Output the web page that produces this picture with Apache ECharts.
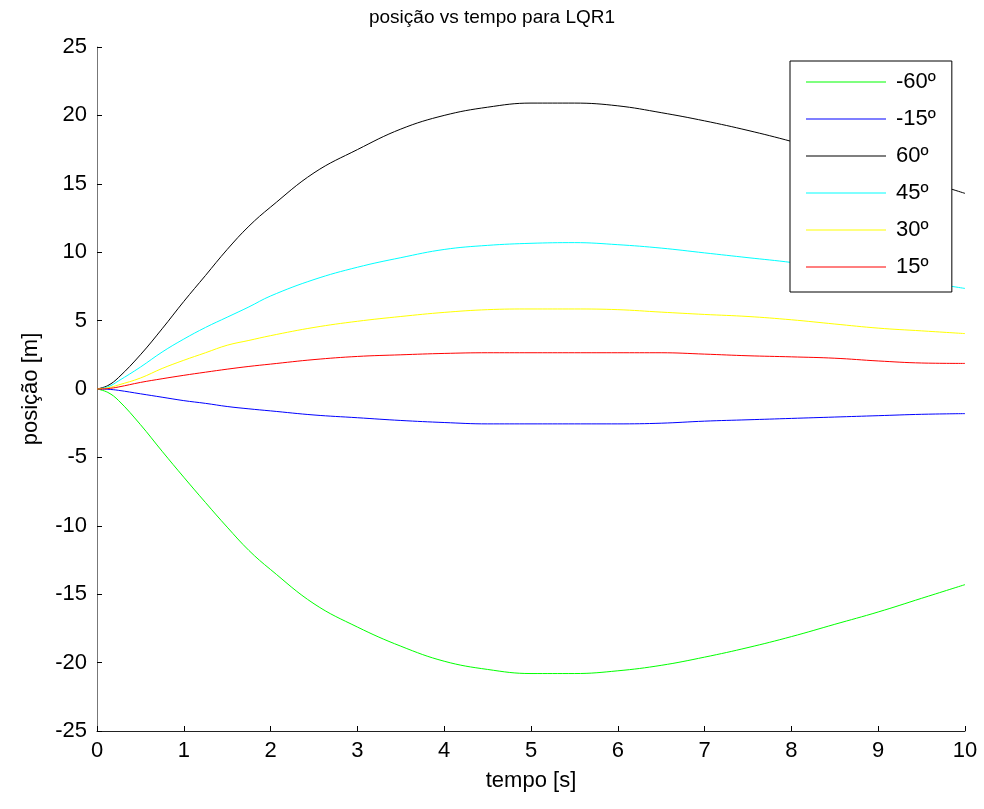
<!DOCTYPE html>
<html>
<head>
<meta charset="utf-8">
<script src="https://cdn.jsdelivr.net/npm/echarts@6/dist/echarts.min.js"></script>
<style>html,body{margin:0;padding:0;background:#fff}#c{width:984px;height:809px}</style>
</head>
<body>
<div id="c"></div>
<script>
var titleText = 'posição vs tempo para LQR1';
var xName = 'tempo [s]';
var yName = 'posição [m]';
var seriesNames = ['-60º', '-15º', '60º', '45º', '30º', '15º'];
var seriesColors = ['#00ff00', '#0000ff', '#000000', '#00ffff', '#ffff00', '#ff0000'];

var t = [0, 0.125, 0.25, 0.5, 0.75, 1, 1.25, 1.5, 1.75, 2, 2.5, 3, 3.5, 4, 4.5, 5, 5.5, 6, 6.5, 7, 7.5, 8, 8.5, 9, 9.5, 10];
var pos_m60 = [0, -0.25, -0.85, -2.6, -4.55, -6.45, -8.3, -10.1, -11.8, -13.2, -15.7, -17.4, -18.8, -19.9, -20.5, -20.8, -20.8, -20.6, -20.2, -19.6, -18.9, -18.1, -17.2, -16.3, -15.3, -14.3];
var pos_m15 = [0, -0.02, -0.1, -0.35, -0.6, -0.85, -1.05, -1.28, -1.45, -1.6, -1.9, -2.1, -2.3, -2.45, -2.55, -2.55, -2.55, -2.55, -2.5, -2.35, -2.25, -2.15, -2.05, -1.95, -1.85, -1.8];
var pos_60 = [0, 0.25, 0.85, 2.5, 4.4, 6.4, 8.3, 10.2, 11.9, 13.3, 15.8, 17.5, 19.0, 20.0, 20.6, 20.9, 20.9, 20.7, 20.2, 19.6, 18.9, 18.1, 17.2, 16.3, 15.3, 14.3];
var pos_45 = [0, 0.15, 0.6, 1.6, 2.7, 3.65, 4.5, 5.25, 6.0, 6.8, 8.0, 8.9, 9.6, 10.2, 10.5, 10.65, 10.7, 10.55, 10.3, 9.95, 9.6, 9.25, 8.8, 8.35, 7.85, 7.35];
var pos_30 = [0, 0.08, 0.3, 0.8, 1.5, 2.1, 2.65, 3.2, 3.55, 3.9, 4.5, 4.95, 5.3, 5.6, 5.8, 5.85, 5.85, 5.8, 5.62, 5.45, 5.3, 5.06, 4.75, 4.45, 4.25, 4.05];
var pos_15 = [0, 0.03, 0.15, 0.48, 0.75, 1.0, 1.23, 1.45, 1.65, 1.82, 2.15, 2.38, 2.5, 2.6, 2.65, 2.65, 2.65, 2.65, 2.65, 2.55, 2.43, 2.35, 2.25, 2.05, 1.9, 1.87];
var allSeries = [pos_m60, pos_m15, pos_60, pos_45, pos_30, pos_15];

var xTicks = [0, 10, 1];
var yTicks = [-25, 25, 5];

var FONT = 'Liberation Sans, Arial, sans-serif';
var series = allSeries.map(function (vals, i) {
  return {
    name: seriesNames[i],
    type: 'line',
    data: t.map(function (x, k) { return [x, vals[k]]; }),
    symbol: 'none',
    smooth: 0.4,
    lineStyle: { color: seriesColors[i], width: 1 },
    itemStyle: { color: seriesColors[i] },
    emphasis: { disabled: true },
    animation: false
  };
});

var chart = echarts.init(document.getElementById('c'));
chart.setOption({
  backgroundColor: '#fff',
  animation: false,
  title: {
    text: titleText,
    left: 'center', top: 3,
    textStyle: { fontFamily: FONT, fontSize: 19, fontWeight: 'normal', color: '#000' }
  },
  grid: { left: 97, right: 19, top: 47, bottom: 78, containLabel: false },
  legend: {
    orient: 'vertical',
    left: 790, top: 61,
    padding: [10, 16, 14, 16],
    icon: 'rect',
    itemWidth: 80, itemHeight: 1, itemGap: 15,
    backgroundColor: '#fff',
    borderColor: '#000', borderWidth: 1, borderRadius: 0,
    textStyle: { fontFamily: FONT, fontSize: 22, color: '#000', lineHeight: 22, padding: [0, 0, 0, 5] },
    data: seriesNames
  },
  xAxis: {
    type: 'value', min: xTicks[0], max: xTicks[1], interval: xTicks[2],
    name: xName, nameLocation: 'middle', nameGap: 39,
    nameTextStyle: { fontFamily: FONT, fontSize: 22, color: '#000' },
    axisLine: { show: true, onZero: false, lineStyle: { color: '#222', width: 1 } },
    axisTick: { show: true, inside: true, length: 5, lineStyle: { color: '#000' } },
    axisLabel: { fontFamily: FONT, fontSize: 22, color: '#000', margin: 9 },
    splitLine: { show: false }
  },
  yAxis: {
    type: 'value', min: yTicks[0], max: yTicks[1], interval: yTicks[2],
    name: yName, nameLocation: 'middle', nameGap: 55,
    nameTextStyle: { fontFamily: FONT, fontSize: 22, color: '#000' },
    axisLine: { show: true, onZero: false, lineStyle: { color: '#777', width: 1 } },
    axisTick: { show: true, inside: true, length: 5, lineStyle: { color: '#000' } },
    axisLabel: { fontFamily: FONT, fontSize: 22, color: '#000', margin: 10 },
    splitLine: { show: false }
  },
  series: series
});
</script>
</body>
</html>
